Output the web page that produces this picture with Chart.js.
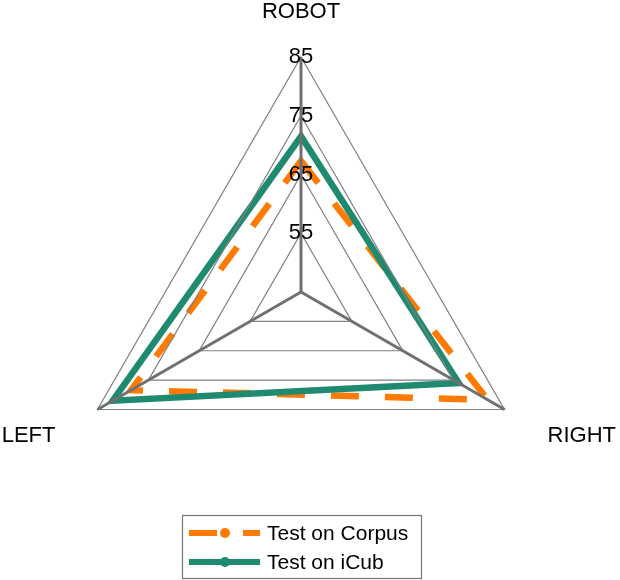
<!DOCTYPE html>
<html>
<head>
<meta charset="utf-8">
<script src="https://cdn.jsdelivr.net/npm/chart.js@4/dist/chart.umd.min.js"></script>
<style>
  body { margin: 0; background: #fff; }
  #wrap { width: 620px; height: 580px; }
</style>
</head>
<body>
<div id="wrap"><canvas id="radarChart" width="620" height="580"></canvas></div>
<script>
const axisLabels = ["ROBOT", "RIGHT", "LEFT"];
const corpusScores = [67.3, 81.7, 78.4];
const icubScores = [71.5, 76, 82];
const tickValues = [45, 55, 65, 75, 85];

const seriesNames = ["Test on Corpus", "Test on iCub"];
const orange = "#FF7A00";
const green = "#1F8A6F";
const font = "'Liberation Sans', Arial, sans-serif";

// axis titles drawn next to the outer vertices of the scale
const axisTitles = {
    id: "axisTitles",
    afterDraw(chart) {
        const scale = chart.scales.r;
        const ctx = chart.ctx;
        ctx.save();
        ctx.font = "22px " + font;
        ctx.fillStyle = "#000";
        ctx.textBaseline = "middle";
        axisLabels.forEach((label, i) => {
            const p = scale.getPointPositionForValue(i, scale.max);
            if (i === 0) {
                ctx.textAlign = "center";
                ctx.fillText(label, p.x, p.y - 45);
            } else if (p.x > scale.xCenter) {
                ctx.textAlign = "left";
                ctx.fillText(label, p.x + 43, p.y + 26);
            } else {
                ctx.textAlign = "right";
                ctx.fillText(label, p.x - 42, p.y + 26);
            }
        });
        ctx.restore();
    }
};

// legend with line + marker samples, boxed
const boxLegend = {
    id: "boxLegend",
    afterDraw(chart) {
        const ctx = chart.ctx;
        const x0 = 182, y0 = 515, w = 239, h = 63;
        ctx.save();
        ctx.strokeStyle = "#777";
        ctx.lineWidth = 1.2;
        ctx.strokeRect(x0 + 0.5, y0 + 0.5, w, h);
        chart.data.datasets.forEach((ds, i) => {
            const y = y0 + 18 + i * 29;
            ctx.strokeStyle = ds.borderColor;
            ctx.lineWidth = 6;
            ctx.setLineDash(ds.borderDash || []);
            ctx.beginPath();
            ctx.moveTo(189, y);
            ctx.lineTo(260, y);
            ctx.stroke();
            ctx.setLineDash([]);
            ctx.fillStyle = ds.borderColor;
            ctx.beginPath();
            ctx.arc(225, y, 5, 0, Math.PI * 2);
            ctx.fill();
            ctx.fillStyle = "#000";
            ctx.font = "21px " + font;
            ctx.textAlign = "left";
            ctx.textBaseline = "middle";
            ctx.fillText(ds.label, 267, y + 1);
        });
        ctx.restore();
    }
};

const ctx = document.getElementById("radarChart").getContext("2d");
new Chart(ctx, {
    type: "radar",
    data: {
        labels: axisLabels,
        datasets: [{
            label: seriesNames[0],
            data: corpusScores,
            borderColor: orange,
            backgroundColor: orange,
            borderWidth: 6.5,
            borderDash: [28, 26],
            pointRadius: 0,
            fill: false,
            order: 1
        }, {
            label: seriesNames[1],
            data: icubScores,
            borderColor: green,
            backgroundColor: green,
            borderWidth: 6.5,
            pointRadius: 0,
            fill: false,
            order: 0
        }]
    },
    options: {
        responsive: false,
        animation: false,
        devicePixelRatio: 1,
        // the radial scale keeps half a tick-label height of padding itself
        layout: { padding: { top: 44, left: 53, right: 71, bottom: 40 } },
        plugins: {
            legend: { display: false },
            tooltip: { enabled: false }
        },
        scales: {
            r: {
                z: 1,
                min: tickValues[0],
                max: tickValues[tickValues.length - 1],
                afterBuildTicks: (scale) => {
                    scale.ticks = tickValues.map(v => ({ value: v }));
                },
                pointLabels: { display: false },
                angleLines: { color: "#707070", lineWidth: 3 },
                grid: { color: "#808080", lineWidth: 1.2, z: 1 },
                ticks: {
                    z: 1,
                    showLabelBackdrop: false,
                    color: "#000",
                    font: { size: 22, family: font }
                }
            }
        }
    },
    plugins: [axisTitles, boxLegend]
});
</script>
</body>
</html>
